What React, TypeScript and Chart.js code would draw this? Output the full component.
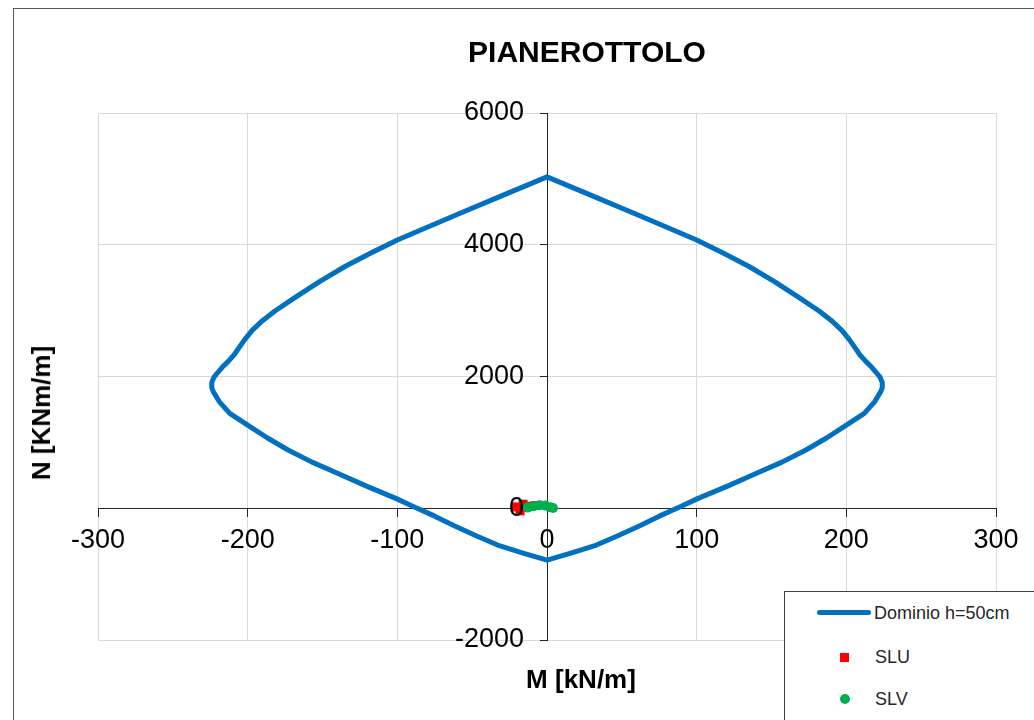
import React, { useEffect, useRef } from "react";
import { Chart, registerables } from "chart.js";

Chart.register(...registerables);

// ---- Data ----
const chartTitle = "PIANEROTTOLO";
const xAxisTitle = "M [kN/m]";
const yAxisTitle = "N [KNm/m]";
const seriesNames = ["Dominio h=50cm", "SLU", "SLV"];

const xTicks = [-300, -200, -100, 0, 100, 200, 300];
const yTicks = [-2000, 0, 2000, 4000, 6000];

// right half of the interaction domain (M, N), top to bottom
const domainRightM = [0, 30, 62, 100, 118, 135, 152, 169, 182, 191, 197, 202, 206, 209, 213, 217, 220, 222.5, 224, 224, 223, 219, 212, 200, 187, 173, 157, 140, 121, 101, 89, 75, 62, 47, 33, 16, 0];
const domainRightN = [5030, 4745, 4440, 4071, 3870, 3670, 3440, 3190, 2990, 2830, 2700, 2560, 2430, 2330, 2230, 2140, 2060, 1990, 1910, 1830, 1770, 1620, 1440, 1263, 1070, 884, 700, 530, 340, 150, 23, -120, -265, -420, -559, -680, -786];
// left half of the domain (M, N), bottom to top
const domainLeftM = [-16, -33, -47, -62, -75, -89, -101, -121, -140, -157, -173, -187, -200, -212, -219, -223, -224, -224, -222.5, -220, -217, -213, -209, -206, -202, -197, -191, -182, -169, -152, -135, -118, -100, -62, -30, 0];
const domainLeftN = [-680, -559, -420, -265, -120, 23, 150, 340, 530, 700, 884, 1070, 1263, 1440, 1620, 1770, 1830, 1910, 1990, 2060, 2140, 2230, 2330, 2430, 2560, 2700, 2830, 2990, 3190, 3440, 3670, 3870, 4071, 4440, 4745, 5030];

const sluM = [-21, -18, -16, -12, -8];
const sluN = [20, -40, 60, 30, 40];
const slvM = [-13, -9, -5, -1, 2, 4];
const slvN = [10, 30, 45, 40, 15, 5];

const FONT = "'Liberation Sans', Arial, Helvetica, sans-serif";

function toPoints(xs: number[], ys: number[]) {
  return xs.map((x, i) => ({ x, y: ys[i] }));
}

// shift the y-axis labels left of the crossing axis (Chart.js ignores padding there)
function shiftLabels(scale: any, dx: number) {
  if (scale.__shifted) return;
  scale.__shifted = true;
  const orig = scale._computeLabelItems.bind(scale);
  scale._computeLabelItems = (ca: any) =>
    orig(ca).map((it: any) => ({
      ...it,
      options: {
        ...it.options,
        translation: [it.options.translation[0] + dx, it.options.translation[1]],
      },
    }));
}

export default function App() {
  const canvasRef = useRef<HTMLCanvasElement | null>(null);

  useEffect(() => {
    const canvas = canvasRef.current;
    if (!canvas) return;
    const domain = [
      ...toPoints(domainRightM, domainRightN),
      ...toPoints(domainLeftM, domainLeftN),
    ];
    const chart = new Chart(canvas, {
      type: "scatter",
      data: {
        datasets: [
          {
            label: seriesNames[0],
            data: domain,
            showLine: true,
            borderColor: "#0070C0",
            backgroundColor: "#0070C0",
            borderWidth: 5,
            pointRadius: 0,
            tension: 0,
            borderCapStyle: "round",
            borderJoinStyle: "round",
            order: 3,
          },
          {
            label: seriesNames[1],
            data: toPoints(sluM, sluN),
            pointStyle: "rect",
            pointRadius: 6.4,
            backgroundColor: "#FF0000",
            borderColor: "#FF0000",
            borderWidth: 0,
            showLine: false,
            order: 2,
          },
          {
            label: seriesNames[2],
            data: toPoints(slvM, slvN),
            pointStyle: "circle",
            pointRadius: 5,
            backgroundColor: "#00B050",
            borderColor: "#00B050",
            borderWidth: 0,
            showLine: false,
            order: 1,
          },
        ],
      },
      options: {
        animation: false,
        responsive: false,
        layout: { padding: { left: 98, top: 113, right: 38, bottom: 80 } },
        plugins: {
          legend: { display: false },
          title: { display: false },
          tooltip: { enabled: false },
        },
        scales: {
          x: {
            type: "linear",
            min: xTicks[0],
            max: xTicks[xTicks.length - 1],
            position: { y: 0 } as any,
            afterBuildTicks: (s: any) => {
              s.ticks = xTicks.map((v) => ({ value: v }));
            },
            afterFit: (s: any) => {
              s.height = 0;
            },
            ticks: {
              callback: (v: any) => String(v),
              font: { family: FONT, size: 27 },
              color: "#000000",
              padding: 8,
              maxRotation: 0,
              autoSkip: false,
            },
            grid: { color: "#D9D9D9", tickColor: "#262626", tickLength: 8, lineWidth: 1 },
            border: { color: "#262626", width: 1 },
          },
          y: {
            type: "linear",
            min: yTicks[0],
            max: yTicks[yTicks.length - 1],
            position: { x: 0 } as any,
            afterBuildTicks: (s: any) => {
              s.ticks = yTicks.map((v) => ({ value: v }));
            },
            afterFit: (s: any) => {
              s.width = 0;
            },
            afterUpdate: (s: any) => shiftLabels(s, -23),
            ticks: {
              callback: (v: any) => String(v),
              font: { family: FONT, size: 27 },
              color: "#000000",
              autoSkip: false,
              z: 1,
            },
            grid: { color: "#D9D9D9", tickColor: "#262626", tickLength: 7, lineWidth: 1 },
            border: { color: "#262626", width: 1 },
          },
        },
      } as any,
    });
    return () => chart.destroy();
  }, []);

  const abs = (s: React.CSSProperties): React.CSSProperties => ({ position: "absolute", ...s });

  return (
    <div style={{ position: "fixed", left: 0, top: 0, width: 1034, height: 720, overflow: "hidden", background: "#fff", fontFamily: FONT }}>
      <div style={abs({ left: 13, top: 8, width: 1040, height: 730, border: "1px solid #595959", boxSizing: "border-box" })} />
      <canvas ref={canvasRef} width={1034} height={720} style={abs({ left: 0, top: 0, width: 1034, height: 720 })} />
      <div style={abs({ left: 587, top: 37, transform: "translateX(-50%)", fontSize: 30, lineHeight: "30px", fontWeight: "bold", color: "#000", whiteSpace: "nowrap" })}>{chartTitle}</div>
      <div style={abs({ left: 581, top: 666, transform: "translateX(-50%)", fontSize: 26, lineHeight: "26px", fontWeight: "bold", color: "#000", whiteSpace: "nowrap" })}>{xAxisTitle}</div>
      <div style={abs({ left: 41, top: 413, transform: "translate(-50%, -50%) rotate(-90deg)", fontSize: 26, lineHeight: "26px", fontWeight: "bold", color: "#000", whiteSpace: "nowrap" })}>{yAxisTitle}</div>
      {/* legend */}
      <div style={abs({ left: 784, top: 591, width: 300, height: 200, border: "1px solid #404040", background: "#fff", boxSizing: "border-box" })} />
      <div style={abs({ left: 817, top: 610, width: 54, height: 5, borderRadius: 3, background: "#0070C0" })} />
      <div style={abs({ left: 874, top: 604, fontSize: 18, lineHeight: "18px", color: "#262626", whiteSpace: "nowrap" })}>{seriesNames[0]}</div>
      <div style={abs({ left: 840, top: 653, width: 9, height: 9, background: "#FF0000" })} />
      <div style={abs({ left: 875, top: 648, fontSize: 18, lineHeight: "18px", color: "#262626", whiteSpace: "nowrap" })}>{seriesNames[1]}</div>
      <div style={abs({ left: 840, top: 694, width: 10, height: 10, borderRadius: "50%", background: "#00B050" })} />
      <div style={abs({ left: 875, top: 690, fontSize: 18, lineHeight: "18px", color: "#262626", whiteSpace: "nowrap" })}>{seriesNames[2]}</div>
    </div>
  );
}
